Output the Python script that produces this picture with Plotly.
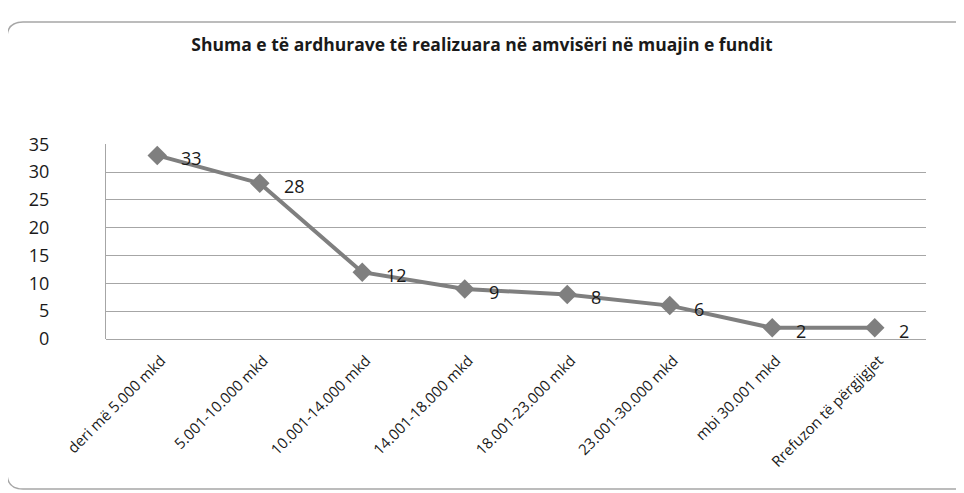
import plotly.graph_objects as go

categories = ["deri më 5.000 mkd", "5.001-10.000 mkd", "10.001-14.000 mkd",
              "14.001-18.000 mkd", "18.001-23.000 mkd", "23.001-30.000 mkd",
              "mbi 30.001 mkd", "Rrefuzon të përgjigjet"]
values = [33, 28, 12, 9, 8, 6, 2, 2]
y_ticks = [0, 5, 10, 15, 20, 25, 30, 35]
title_text = "Shuma e të ardhurave të realizuara në amvisëri në muajin e fundit"

OFF = 8  # page body margin
W, H = 964 - OFF, 493 - OFF
L, R, T, B = 106 - OFF, 38, 144 - OFF, 154
pw, ph = W - L - R, H - T - B

def px(x):
    return (x - OFF - L) / pw

def py(y):
    return (H - B - (y - OFF)) / ph

fig = go.Figure()
fig.add_trace(go.Scatter(
    x=list(range(len(categories))), y=values,
    mode="lines+markers",
    line=dict(color="#7f7f7f", width=4),
    marker=dict(symbol="diamond", size=15, color="#7f7f7f"),
    hoverinfo="skip",
))
for i, v in enumerate(values):
    fig.add_annotation(x=i, y=v, text=str(v), showarrow=False,
                       xanchor="left", yanchor="middle", xshift=22, yshift=-3,
                       font=dict(size=18, color="#1a1a1a", family="Open Sans"))

# rounded border
x0, y0, x1, y1, r = 7, 22, 990, 489, 16
path = (f"M {px(x0)},{py(y0 + r)} Q {px(x0)},{py(y0)} {px(x0 + r)},{py(y0)} "
        f"L {px(x1)},{py(y0)} L {px(x1)},{py(y1)} L {px(x0 + r)},{py(y1)} "
        f"Q {px(x0)},{py(y1)} {px(x0)},{py(y1 - r)} Z")
fig.add_shape(type="path", path=path, xref="paper", yref="paper",
              line=dict(color="#a6a6a6", width=1.5), layer="below")

fig.update_layout(
    width=W, height=H,
    margin=dict(l=L, r=R, t=T, b=B),
    paper_bgcolor="white", plot_bgcolor="white",
    showlegend=False,
    title=dict(text="<b>" + title_text + "</b>", xref="container",
               x=(482 - OFF) / W, xanchor="center",
               yref="container", y=1 - (45 - OFF) / H, yanchor="middle",
               font=dict(size=17.5, color="#1a1a1a", family="Open Sans")),
    font=dict(family="Open Sans", color="#1a1a1a"),
)
fig.update_xaxes(
    range=[-0.5, len(categories) - 0.5],
    tickmode="array", tickvals=list(range(len(categories))),
    ticktext=categories,
    tickangle=-45, tickfont=dict(size=15, color="#1a1a1a"),
    showgrid=False, zeroline=False, showline=False, ticks="",
    ticklabelshift=4, ticklabelstandoff=9,
)
fig.update_yaxes(
    range=[0, 35.05], tickmode="array", tickvals=y_ticks,
    tickfont=dict(size=18, color="#1a1a1a"),
    showgrid=True, gridcolor="#a6a6a6", gridwidth=1,
    zeroline=True, zerolinecolor="#a6a6a6", zerolinewidth=1,
    showline=True, linecolor="#a6a6a6", linewidth=1,
    ticks="", ticklabelstandoff=52,
)

fig.write_html("out.html")
